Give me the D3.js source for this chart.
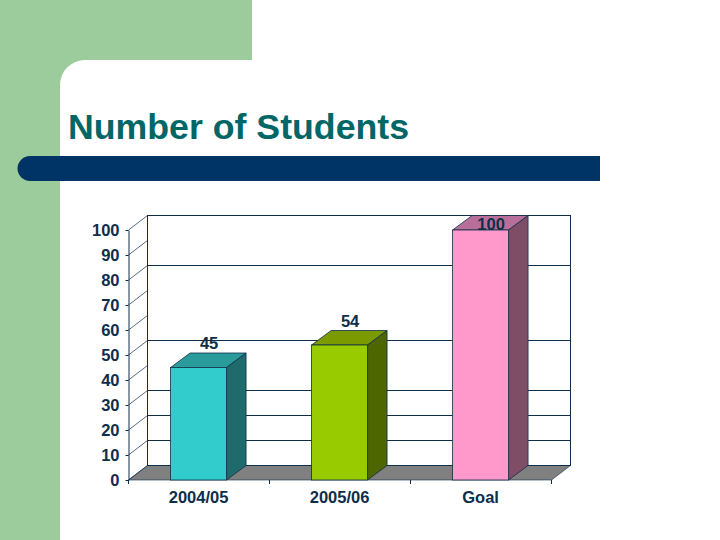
<!DOCTYPE html>
<html>
<head>
<meta charset="utf-8">
<script src="https://cdn.jsdelivr.net/npm/d3@7"></script>
<style>
html, body { margin: 0; padding: 0; background: #fff; }
svg { display: block; }
text { font-family: "Liberation Sans", Arial, sans-serif; font-weight: bold; }
</style>
</head>
<body>
<svg id="chart" width="720" height="540"></svg>
<script>
var categories = ["2004/05", "2005/06", "Goal"];
var values = [45, 54, 100];
var yTicks = [0, 10, 20, 30, 40, 50, 60, 70, 80, 90, 100];
var gridValues = [10, 20, 30, 50, 80];
var frontColors = ["#33cccc", "#99cc00", "#ff99cc"];
var topColors = ["#299b9b", "#7a9a00", "#b86f99"];
var sideColors = ["#1f6b6b", "#4d6600", "#804d66"];

var ink = "#0f2e4a";
var depthX = 19;
var depthY = -14.5;
var barDepthX = 19.5;

var svg = d3.select("#chart");

// slide background
svg.append("rect").attr("x", 0).attr("y", 0).attr("width", 252).attr("height", 60).attr("fill", "#9ccc9c");
svg.append("rect").attr("x", 0).attr("y", 0).attr("width", 60).attr("height", 540).attr("fill", "#9ccc9c");
svg.append("path").attr("d", "M60,60 H85 A25,25 0 0 0 60,85 Z").attr("fill", "#9ccc9c");

svg.append("text")
  .attr("x", 68).attr("y", 139)
  .style("font-size", "35.7px")
  .attr("fill", "#006666")
  .text("Number of Students");

svg.append("path")
  .attr("d", "M600,156 H30 A12,12 0 0 0 30,181 H600 Z")
  .attr("fill", "#003366");

// plot
var y = d3.scaleLinear().domain([0, 100]).range([480, 230]);
var x = d3.scaleBand().domain(categories).range([128.5, 551.5])
  .paddingInner(0.603).paddingOuter(0.3015).align(0.495);

var backLeft = x.range()[0] + depthX;
var backRight = x.range()[1] + depthX;

var g = svg.append("g");

// floor
g.append("path")
  .attr("d", d3.line()([[x.range()[0], y(0)], [x.range()[1], y(0)], [backRight, y(0) + depthY], [backLeft, y(0) + depthY]]) + "Z")
  .attr("fill", "#808080")
  .attr("stroke", ink)
  .attr("stroke-width", 0.6);

// back wall
g.append("rect")
  .attr("x", backLeft).attr("y", y(100) + depthY)
  .attr("width", backRight - backLeft).attr("height", y(0) - y(100))
  .attr("fill", "#fff").attr("stroke", ink).attr("stroke-width", 1);

g.selectAll(".grid").data(gridValues).enter().append("line")
  .attr("class", "grid")
  .attr("x1", backLeft).attr("x2", backRight)
  .attr("y1", function(d) { return y(d) + depthY; })
  .attr("y2", function(d) { return y(d) + depthY; })
  .attr("stroke", ink).attr("stroke-width", 1);

// side wall diagonals
g.selectAll(".diag").data(yTicks).enter().append("line")
  .attr("class", "diag")
  .attr("x1", x.range()[0]).attr("x2", backLeft)
  .attr("y1", function(d) { return y(d); })
  .attr("y2", function(d) { return y(d) + depthY; })
  .attr("stroke", ink).attr("stroke-width", 0.7);

// axes
var yAxis = d3.axisLeft(y).tickValues(yTicks).tickSizeInner(3).tickSizeOuter(0).tickPadding(6);
var yG = g.append("g").attr("transform", "translate(" + x.range()[0] + ",0)").call(yAxis);
yG.select(".domain").attr("stroke", ink).attr("stroke-width", 1);
yG.selectAll("line").attr("stroke", ink);
yG.selectAll("text").style("font-size", "16.5px").attr("fill", ink).attr("font-family", null).attr("dy", "0.36em");

var xAxis = d3.axisBottom(x).tickSize(0).tickPadding(11);
var xG = g.append("g").attr("transform", "translate(0," + y(0) + ")").call(xAxis);
xG.select(".domain").remove();
xG.selectAll("text").style("font-size", "16.5px").attr("fill", ink).attr("font-family", null);

// separators between categories
var step = x.step();
var sepPositions = d3.range(categories.length + 1).map(function(i) { return x.range()[0] + i * step; });
g.selectAll(".sep").data(sepPositions).enter().append("line")
  .attr("class", "sep")
  .attr("x1", function(d) { return d; }).attr("x2", function(d) { return d; })
  .attr("y1", y(0)).attr("y2", y(0) + 4)
  .attr("stroke", ink).attr("stroke-width", 1);

// bars
var bars = g.selectAll(".bar").data(values).enter().append("g").attr("class", "bar");

bars.append("path")
  .attr("d", function(d, i) {
    var l = x(categories[i]), r = l + x.bandwidth(), t = y(d);
    return d3.line()([[l, t], [r, t], [r + barDepthX, t + depthY], [l + barDepthX, t + depthY]]) + "Z";
  })
  .attr("fill", function(d, i) { return topColors[i]; })
  .attr("stroke", ink).attr("stroke-width", 0.8);

bars.append("path")
  .attr("d", function(d, i) {
    var r = x(categories[i]) + x.bandwidth(), t = y(d), b = y(0);
    return d3.line()([[r, t], [r + barDepthX, t + depthY], [r + barDepthX, b + depthY], [r, b]]) + "Z";
  })
  .attr("fill", function(d, i) { return sideColors[i]; })
  .attr("stroke", ink).attr("stroke-width", 0.8);

bars.append("rect")
  .attr("x", function(d, i) { return x(categories[i]); })
  .attr("y", function(d) { return y(d); })
  .attr("width", x.bandwidth())
  .attr("height", function(d) { return y(0) - y(d); })
  .attr("fill", function(d, i) { return frontColors[i]; })
  .attr("stroke", ink).attr("stroke-width", 0.8);

// labels sit above the bar, but stay inside the plot frame for the tallest one
bars.append("text")
  .attr("x", function(d, i) { return x(categories[i]) + x.bandwidth() / 2 + 10.5; })
  .attr("y", function(d) { return Math.max(y(d) - 18.5, y(100)); })
  .attr("text-anchor", "middle")
  .style("font-size", "16.5px")
  .attr("fill", ink)
  .text(function(d) { return d; });
</script>
</body>
</html>
